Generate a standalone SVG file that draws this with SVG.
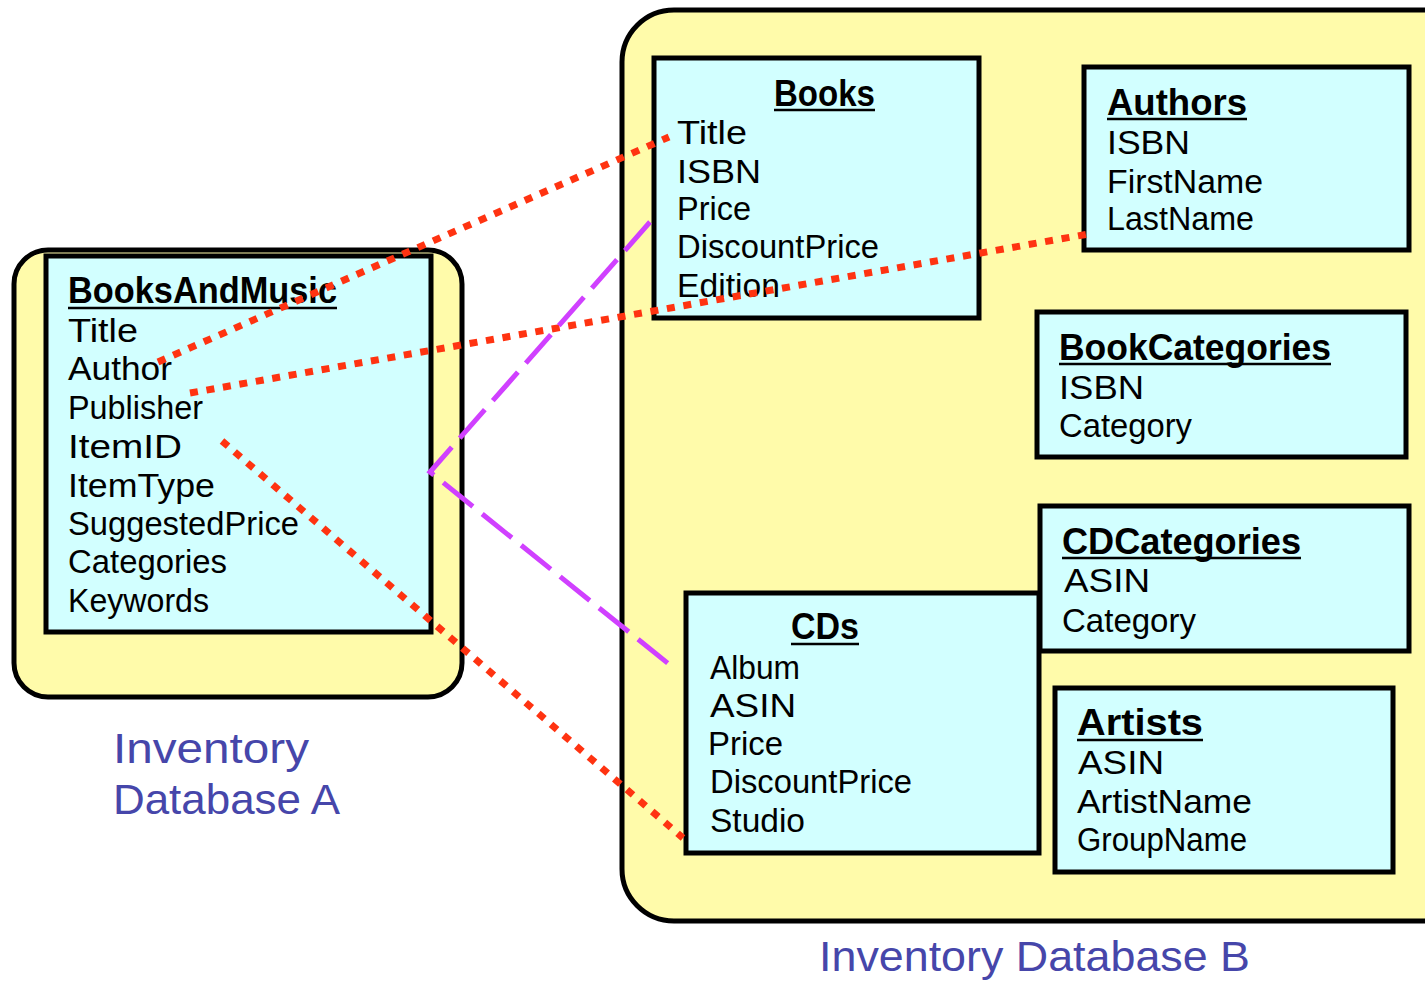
<svg xmlns="http://www.w3.org/2000/svg" width="1425" height="982" viewBox="0 0 1425 982">
  <style>
    .db { fill: #FFFBAA; stroke: #000; stroke-width: 5; }
    .tbl { fill: #D2FFFF; stroke: #000; stroke-width: 5; }
    text { font-family: "Liberation Sans", Arial, sans-serif; fill: #000; }
    .hd { font-size: 36px; font-weight: bold; }
    .it { font-size: 33px; }
    .ul { stroke: #000; stroke-width: 2.5; }
    .lbl { font-size: 43px; fill: #4646AA; }
    .map { fill: none; stroke: #FF3311; stroke-width: 7; stroke-dasharray: 8 8.7; }
    .merge { fill: none; stroke: #D040FF; stroke-width: 5; stroke-dasharray: 38 12; }
  </style>

  <rect width="1425" height="982" fill="#fff"/>

  <!-- database containers -->
  <g id="database-a">
    <rect class="db" x="14" y="250" width="448" height="447" rx="34"/>
    <text class="lbl" x="113" y="763" textLength="196" lengthAdjust="spacingAndGlyphs">Inventory</text>
    <text class="lbl" x="113" y="814" textLength="227" lengthAdjust="spacingAndGlyphs">Database A</text>
  </g>
  <g id="database-b">
    <rect class="db" x="622" y="10" width="860" height="911" rx="52"/>
    <text class="lbl" x="819" y="971" textLength="431" lengthAdjust="spacingAndGlyphs">Inventory Database B</text>
  </g>

  <!-- tables -->
  <g id="books-and-music">
    <rect class="tbl" x="46" y="256" width="385" height="376"/>
    <text class="hd" x="68" y="303" textLength="269" lengthAdjust="spacingAndGlyphs">BooksAndMusic</text>
    <line class="ul" x1="68" y1="308" x2="337" y2="308"/>
    <text class="it" x="68" y="342" textLength="70" lengthAdjust="spacingAndGlyphs">Title</text>
    <text class="it" x="68" y="380" textLength="104" lengthAdjust="spacingAndGlyphs">Author</text>
    <text class="it" x="68" y="419" textLength="135" lengthAdjust="spacingAndGlyphs">Publisher</text>
    <text class="it" x="68" y="458" textLength="114" lengthAdjust="spacingAndGlyphs">ItemID</text>
    <text class="it" x="68" y="497" textLength="147" lengthAdjust="spacingAndGlyphs">ItemType</text>
    <text class="it" x="68" y="535" textLength="231" lengthAdjust="spacingAndGlyphs">SuggestedPrice</text>
    <text class="it" x="68" y="573" textLength="159" lengthAdjust="spacingAndGlyphs">Categories</text>
    <text class="it" x="68" y="612" textLength="141" lengthAdjust="spacingAndGlyphs">Keywords</text>
  </g>

  <g id="books">
    <rect class="tbl" x="654" y="58" width="325" height="260"/>
    <text class="hd" x="774" y="106" textLength="101" lengthAdjust="spacingAndGlyphs">Books</text>
    <line class="ul" x1="774" y1="110" x2="875" y2="110"/>
    <text class="it" x="677" y="144" textLength="70" lengthAdjust="spacingAndGlyphs">Title</text>
    <text class="it" x="677" y="183" textLength="84" lengthAdjust="spacingAndGlyphs">ISBN</text>
    <text class="it" x="677" y="220" textLength="74" lengthAdjust="spacingAndGlyphs">Price</text>
    <text class="it" x="677" y="258" textLength="202" lengthAdjust="spacingAndGlyphs">DiscountPrice</text>
    <text class="it" x="677" y="297" textLength="103" lengthAdjust="spacingAndGlyphs">Edition</text>
  </g>

  <g id="authors">
    <rect class="tbl" x="1084" y="67" width="325" height="183"/>
    <text class="hd" x="1107" y="115" textLength="140" lengthAdjust="spacingAndGlyphs">Authors</text>
    <line class="ul" x1="1107" y1="119" x2="1247" y2="119"/>
    <text class="it" x="1107" y="154" textLength="83" lengthAdjust="spacingAndGlyphs">ISBN</text>
    <text class="it" x="1107" y="193" textLength="156" lengthAdjust="spacingAndGlyphs">FirstName</text>
    <text class="it" x="1107" y="230" textLength="147" lengthAdjust="spacingAndGlyphs">LastName</text>
  </g>

  <g id="book-categories">
    <rect class="tbl" x="1037" y="312" width="369" height="145"/>
    <text class="hd" x="1059" y="360" textLength="272" lengthAdjust="spacingAndGlyphs">BookCategories</text>
    <line class="ul" x1="1059" y1="364" x2="1331" y2="364"/>
    <text class="it" x="1059" y="399" textLength="85" lengthAdjust="spacingAndGlyphs">ISBN</text>
    <text class="it" x="1059" y="437" textLength="133" lengthAdjust="spacingAndGlyphs">Category</text>
  </g>

  <g id="cd-categories">
    <rect class="tbl" x="1040" y="506" width="369" height="145"/>
    <text class="hd" x="1062" y="554" textLength="239" lengthAdjust="spacingAndGlyphs">CDCategories</text>
    <line class="ul" x1="1062" y1="558" x2="1301" y2="558"/>
    <text class="it" x="1064" y="592" textLength="86" lengthAdjust="spacingAndGlyphs">ASIN</text>
    <text class="it" x="1062" y="632" textLength="134" lengthAdjust="spacingAndGlyphs">Category</text>
  </g>

  <g id="cds">
    <rect class="tbl" x="686" y="593" width="353" height="260"/>
    <text class="hd" x="791" y="639" textLength="68" lengthAdjust="spacingAndGlyphs">CDs</text>
    <line class="ul" x1="791" y1="644" x2="859" y2="644"/>
    <text class="it" x="710" y="679" textLength="90" lengthAdjust="spacingAndGlyphs">Album</text>
    <text class="it" x="710" y="717" textLength="86" lengthAdjust="spacingAndGlyphs">ASIN</text>
    <text class="it" x="708" y="755" textLength="75" lengthAdjust="spacingAndGlyphs">Price</text>
    <text class="it" x="710" y="793" textLength="202" lengthAdjust="spacingAndGlyphs">DiscountPrice</text>
    <text class="it" x="710" y="832" textLength="95" lengthAdjust="spacingAndGlyphs">Studio</text>
  </g>

  <g id="artists">
    <rect class="tbl" x="1055" y="688" width="338" height="184"/>
    <text class="hd" x="1077" y="735" textLength="126" lengthAdjust="spacingAndGlyphs">Artists</text>
    <line class="ul" x1="1077" y1="740" x2="1203" y2="740"/>
    <text class="it" x="1078" y="774" textLength="86" lengthAdjust="spacingAndGlyphs">ASIN</text>
    <text class="it" x="1077" y="813" textLength="175" lengthAdjust="spacingAndGlyphs">ArtistName</text>
    <text class="it" x="1077" y="851" textLength="170" lengthAdjust="spacingAndGlyphs">GroupName</text>
  </g>

  <!-- attribute mappings -->
  <g id="connectors">
    <line class="map" x1="158" y1="362" x2="669" y2="137"/>
    <line class="map" x1="190" y1="393" x2="1094" y2="233"/>
    <line class="map" x1="222" y1="441" x2="683" y2="838"/>
    <polyline class="merge" points="650,222 430,472 670,665"/>
  </g>
</svg>
